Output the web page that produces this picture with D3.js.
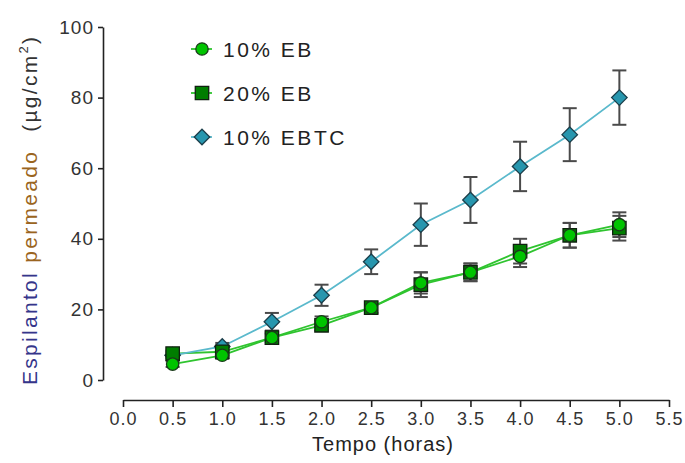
<!DOCTYPE html>
<html>
<head>
<meta charset="utf-8">
<script src="https://cdn.jsdelivr.net/npm/d3@7"></script>
<style>
  body { margin: 0; background: #fff; }
  text { font-family: "Liberation Sans", Arial, sans-serif; }
</style>
</head>
<body>
<svg id="chart"></svg>
<script>
// time points (horas)
const tempo = [0.5, 1.0, 1.5, 2.0, 2.5, 3.0, 3.5, 4.0, 4.5, 5.0];

// espilantol permeado (µg/cm²), mean and error
const eb10 = [4.5, 7, 12, 16.5, 20.5, 27.5, 30.5, 35, 41, 44];
const eb10Err = [0.8, 1, 1.2, 1.5, 1.5, 3, 2.5, 3, 3.5, 3.5];
const eb20 = [7.5, 8, 12, 15.5, 20.5, 27, 30.5, 36.5, 41, 43];
const eb20Err = [0.8, 1, 1.2, 1.5, 1.5, 3.5, 2.5, 3.5, 3.5, 3.5];
const ebtc = [7, 9.5, 16.5, 24, 33.5, 44, 51, 60.5, 69.5, 80];
const ebtcErr = [0.8, 1, 2.5, 3, 3.5, 6, 6.5, 7, 7.5, 7.7];

const xTicks = [0, 0.5, 1, 1.5, 2, 2.5, 3, 3.5, 4, 4.5, 5, 5.5];
const yTicks = [0, 20, 40, 60, 80, 100];

// square rotated 45 degrees, as drawn by the original software
const symbolRhomb = {
    draw(context, size) {
        const r = Math.sqrt(size / 2);
        context.moveTo(0, -r);
        context.lineTo(r, 0);
        context.lineTo(0, r);
        context.lineTo(-r, 0);
        context.closePath();
    }
};

const series = [
    { name: '10% EB', values: eb10, err: eb10Err, shape: d3.symbolCircle, size: 120, fill: '#00c400', stroke: '#1a3a1a', line: '#2fc42f' },
    { name: '20% EB', values: eb20, err: eb20Err, shape: d3.symbolSquare, size: 180, fill: '#007d00', stroke: '#102010', line: '#2fc42f' },
    { name: '10% EBTC', values: ebtc, err: ebtcErr, shape: symbolRhomb, size: 120, fill: '#2796ae', stroke: '#1b3e4a', line: '#5ab9cc' }
];

const width = 685;
const height = 463;

const svg = d3.select('#chart')
    .attr('width', width)
    .attr('height', height);

const x = d3.scaleLinear().domain([0, 5.5]).range([123, 669]);
const y = d3.scaleLinear().domain([0, 100]).range([380, 27]);

// y axis
const yAxis = svg.append('g')
    .attr('transform', 'translate(103,0)')
    .call(d3.axisLeft(y).tickValues(yTicks).tickSize(5).tickSizeOuter(0));
yAxis.select('.domain').attr('stroke', '#222').attr('stroke-width', 1.6);
yAxis.selectAll('.tick line').attr('stroke', '#222').attr('stroke-width', 1.6);
yAxis.selectAll('.tick text')
    .attr('font-size', 19)
    .attr('letter-spacing', 1)
    .attr('fill', '#333')
    .attr('x', -9);

// x axis
const xAxis = svg.append('g')
    .attr('transform', 'translate(0,400)')
    .call(d3.axisBottom(x).tickValues(xTicks).tickFormat(d3.format('.1f')).tickSize(7).tickSizeOuter(0));
xAxis.select('.domain').attr('stroke', '#222').attr('stroke-width', 1.6);
xAxis.selectAll('.tick line').attr('stroke', '#222').attr('stroke-width', 1.6);
xAxis.selectAll('.tick text')
    .attr('font-size', 18)
    .attr('letter-spacing', 1)
    .attr('fill', '#333')
    .attr('y', 12);

// axis titles
svg.append('text')
    .attr('x', 383)
    .attr('y', 451)
    .attr('text-anchor', 'middle')
    .attr('font-size', 20)
    .attr('letter-spacing', 1)
    .attr('fill', '#222')
    .text('Tempo (horas)');

const yTitle = svg.append('text')
    .attr('transform', 'translate(37,385) rotate(-90)')
    .attr('font-size', 21)
    .attr('letter-spacing', 2.3);
yTitle.append('tspan').attr('fill', '#35358a').text('Espilantol ');
yTitle.append('tspan').attr('fill', '#9a6420').text('permeado');
yTitle.append('tspan').attr('fill', '#333').attr('dx', 18).text('(µg/cm');
yTitle.append('tspan').attr('fill', '#333').attr('font-size', 13).attr('dy', -9).text('2');
yTitle.append('tspan').attr('fill', '#333').attr('dy', 9).text(')');

const line = d3.line()
    .x((d, i) => x(tempo[i]))
    .y((d) => y(d));

// lines first, then error bars, then markers
series.forEach((s) => {
    svg.append('path')
        .datum(s.values)
        .attr('fill', 'none')
        .attr('stroke', s.line)
        .attr('stroke-width', 1.8)
        .attr('d', line);
});

series.forEach((s) => {
    const g = svg.append('g');
    const bars = g.selectAll('g')
        .data(s.values.map((v, i) => ({ t: tempo[i], v: v, e: s.err[i] })))
        .join('g')
        .attr('stroke', '#4a4a4a')
        .attr('stroke-width', 2);
    bars.append('line')
        .attr('x1', (d) => x(d.t)).attr('x2', (d) => x(d.t))
        .attr('y1', (d) => y(d.v + d.e)).attr('y2', (d) => y(d.v - d.e));
    bars.append('line')
        .attr('x1', (d) => x(d.t) - 7).attr('x2', (d) => x(d.t) + 7)
        .attr('y1', (d) => y(d.v + d.e)).attr('y2', (d) => y(d.v + d.e));
    bars.append('line')
        .attr('x1', (d) => x(d.t) - 7).attr('x2', (d) => x(d.t) + 7)
        .attr('y1', (d) => y(d.v - d.e)).attr('y2', (d) => y(d.v - d.e));
});

// diamonds at the back, then squares, circles on top
[series[2], series[1], series[0]].forEach((s) => {
    svg.append('g')
        .selectAll('path')
        .data(s.values)
        .join('path')
        .attr('transform', (d, i) => `translate(${x(tempo[i])},${y(d)})`)
        .attr('d', d3.symbol().type(s.shape).size(s.size))
        .attr('fill', s.fill)
        .attr('stroke', s.stroke)
        .attr('stroke-width', 1.3);
});

// legend
const legend = svg.append('g');
series.forEach((s, i) => {
    const ly = 49 + i * 44;
    legend.append('line')
        .attr('x1', 191).attr('x2', 212)
        .attr('y1', ly).attr('y2', ly)
        .attr('stroke', s.line)
        .attr('stroke-width', 1.8);
    legend.append('path')
        .attr('transform', `translate(202,${ly})`)
        .attr('d', d3.symbol().type(s.shape).size(s.size))
        .attr('fill', s.fill)
        .attr('stroke', s.stroke)
        .attr('stroke-width', 1.3);
    legend.append('text')
        .attr('x', 223)
        .attr('y', ly + 8)
        .attr('font-size', 21)
        .attr('letter-spacing', 2.5)
        .attr('fill', '#222')
        .text(s.name);
});
</script>
</body>
</html>
